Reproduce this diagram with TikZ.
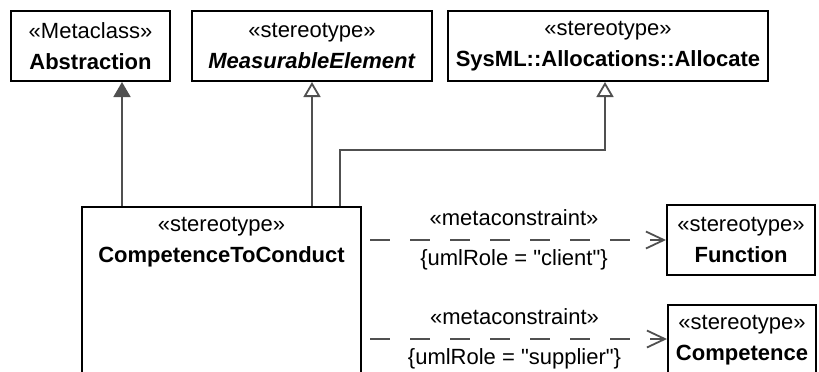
\documentclass[tikz,border=0pt]{standalone}
\usepackage{fontspec}
\setmainfont{Liberation Sans}
\usepackage{xcolor}
\usetikzlibrary{arrows.meta,positioning}
\definecolor{umlLine}{HTML}{505050}

\begin{document}
\begin{tikzpicture}[x=0.5pt, y=-0.5pt,
  font=\fontsize{11}{15.5}\selectfont,
  cls/.style={draw, line width=1pt, align=center, inner sep=0pt},
  stxt/.style={align=center, inner sep=0pt, anchor=north},
  gen/.style={umlLine, line width=0.9pt, -{Triangle[open, length=7.5pt, width=8.5pt]}},
  genfill/.style={umlLine, line width=0.9pt, -{Triangle[length=7.5pt, width=8.5pt, fill=umlLine]}},
  dep/.style={umlLine, line width=0.9pt, dash pattern=on 10pt off 10pt, dash phase=16pt,
    -{Straight Barb[length=9pt, width=8.5pt]}},
  lbl/.style={inner sep=0pt, text=black}]
  \useasboundingbox (0,0) rectangle (819,371);
% --- top row ---
  \node[cls, minimum width=79.5pt, minimum height=35pt] (abs) at (90.5,46) {«Metaclass»\\\textbf{Abstraction}};
  \node[cls, minimum width=120pt, minimum height=35pt] (meas) at (312,46) {«stereotype»\\\textbf{\textit{MeasurableElement}}};
  \node[cls, minimum width=160pt, minimum height=35pt] (alloc) at (608,46) {«stereotype»\\\textbf{SysML::Allocations::Allocate}};
% --- bottom row ---
  \node[cls, anchor=north west, minimum width=139.5pt, minimum height=120pt] (ctc) at (81,206) {};
  \node[stxt, below=5.5pt of ctc.north] (ctc-txt) {«stereotype»\\\textbf{CompetenceToConduct}};
  \node[cls, minimum width=74pt, minimum height=35pt] (fun) at (741,240) {«stereotype»\\\textbf{Function}};
  \node[cls, anchor=north west, minimum width=74pt, minimum height=60pt] (comp) at (667,304) {};
  \node[stxt, below=5.5pt of comp.north] (comp-txt) {«stereotype»\\\textbf{Competence}};
  \coordinate (comp-in) at ([yshift=-17.5pt]comp.north west);
% --- generalizations ---
  \draw[genfill] ([xshift=20.5pt]ctc.north west) -- ([xshift=20.5pt]ctc.north west |- abs.south);
  \draw[gen] (meas.south |- ctc.north) -- (meas.south);
  \draw[gen] ([xshift=129.5pt]ctc.north west) -- ++(0,-56) -| ([xshift=-1.5pt]alloc.south);
% --- metaconstraints ---
  \draw[dep] (ctc.east |- fun.west) -- (fun.west)
    node[lbl, midway, above=6.5pt] {«metaconstraint»}
    node[lbl, midway, below=4.5pt] {\{umlRole = \textquotedbl client\textquotedbl\}};
  \draw[dep] (ctc.east |- comp-in) -- (comp-in)
    node[lbl, midway, above=6.5pt] {«metaconstraint»}
    node[lbl, midway, below=4.5pt] {\{umlRole = \textquotedbl supplier\textquotedbl\}};
\end{tikzpicture}
\end{document}
